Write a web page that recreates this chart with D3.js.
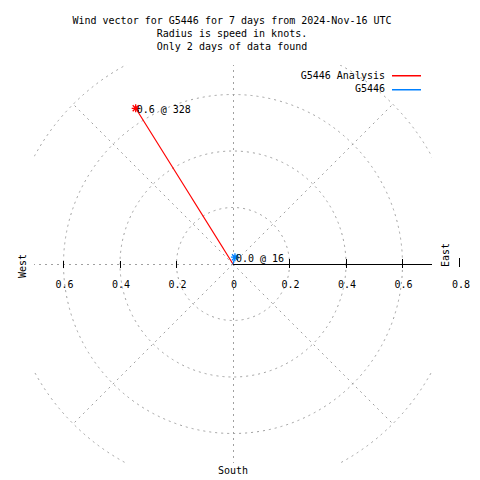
<!DOCTYPE html>
<html><head><meta charset="utf-8">
<script src="https://cdn.jsdelivr.net/npm/d3@7"></script>
<style>body{margin:0;background:#fff}svg{display:block}text{font-family:"DejaVu Sans Mono",monospace;font-size:10px;fill:#000}</style>
</head><body><svg id="c" width="480" height="480"></svg>
<script>
const titleLines = ["Wind vector for G5446 for 7 days from 2024-Nov-16 UTC","Radius is speed in knots.","Only 2 days of data found"];
const radialTicks = [0.2, 0.4, 0.6, 0.8];
const gridAngles = [0, 45, 90, 135, 180, 225, 270, 315];
const seriesNames = ["G5446 Analysis", "G5446"];
const seriesColors = ["#ff0000", "#0080ff"];
const speeds = [0.65, 0.025];
const directions = [328, 16];
const pointLabels = ["0.6 @ 328", "0.0 @ 16"];
const axisTickLabels = ["0", "0.2", "0.4", "0.6"];

const svg = d3.select("#c");
const cx = 233, cy = 264;
const r = d3.scaleLinear().domain([0, 0.8]).range([0, 226]);
const clipHalf = 199;

svg.append("defs").append("clipPath").attr("id","pc").append("rect")
  .attr("x", cx-clipHalf).attr("y", cy-clipHalf).attr("width", 2*clipHalf).attr("height", 2*clipHalf);

// title
svg.selectAll("text.title").data(titleLines).join("text").attr("class","title")
  .attr("x", 232).attr("y", (d,i)=>20+13*i).attr("text-anchor","middle").attr("dominant-baseline","central").text(d=>d);

const g = svg.append("g").attr("clip-path","url(#pc)");
const dash = "2,4", grey = "#a0a0a0";
// grid circles
g.selectAll("circle.grid").data(radialTicks).join("circle")
  .attr("cx",cx).attr("cy",cy).attr("r",d=>r(d)).attr("fill","none")
  .attr("stroke",grey).attr("stroke-dasharray",dash);
// radial lines
g.selectAll("line.rad").data(gridAngles).join("line")
  .attr("x1",cx).attr("y1",cy)
  .attr("x2",d=>cx+r(0.8)*Math.cos(d*Math.PI/180))
  .attr("y2",d=>cy-r(0.8)*Math.sin(d*Math.PI/180))
  .attr("stroke",grey).attr("stroke-dasharray",dash)
  .attr("shape-rendering",d=>d%90===0?"crispEdges":null);

// axis line east
svg.append("line").attr("x1",cx).attr("y1",cy).attr("x2",cx+clipHalf).attr("y2",cy).attr("stroke","#000").attr("shape-rendering","crispEdges");
// ticks
[0.2,0.4,0.6].forEach(t=>{
  svg.append("line").attr("x1",cx+r(t)).attr("x2",cx+r(t)).attr("y1",cy-5).attr("y2",cy+4).attr("stroke","#000").attr("shape-rendering","crispEdges");
  svg.append("line").attr("x1",cx-r(t)).attr("x2",cx-r(t)).attr("y1",cy-3).attr("y2",cy+4).attr("stroke","#000").attr("shape-rendering","crispEdges");
});
svg.append("line").attr("x1",cx+r(0.8)).attr("x2",cx+r(0.8)).attr("y1",cy-6).attr("y2",cy+3).attr("stroke","#000").attr("shape-rendering","crispEdges");
// east tick labels
axisTickLabels.forEach((lab,i)=>{
  const x = cx + r(i*0.2);
  svg.append("text").attr("x",x+1).attr("y",cy+20).attr("text-anchor","middle").attr("dominant-baseline","central").text(lab);
});
svg.append("text").attr("x",cx+r(0.8)+2).attr("y",cy+20).attr("text-anchor","middle").attr("dominant-baseline","central").text("0.8");
// west tick labels
axisTickLabels.slice(1).forEach((lab,i)=>{
  svg.append("text").attr("x",cx-r((i+1)*0.2)+1).attr("y",cy+20).attr("text-anchor","middle").attr("dominant-baseline","central").text(lab);
});
// compass labels
svg.append("text").attr("transform",`translate(22,${cy+2}) rotate(-90)`).attr("text-anchor","middle").attr("dominant-baseline","central").text("West");
svg.append("text").attr("transform",`translate(445,${cy-9}) rotate(-90)`).attr("text-anchor","middle").attr("dominant-baseline","central").text("East");
svg.append("text").attr("x",cx).attr("y",470).attr("text-anchor","middle").attr("dominant-baseline","central").text("South");

// data vectors
function pos(s,d){ const a=d*Math.PI/180; return [cx+r(s)*Math.sin(a), cy-r(s)*Math.cos(a)]; }
function star(sel,x,y,color){
  const s=4;
  sel.append("path").attr("d",`M${x-s},${y}H${x+s}M${x},${y-s}V${y+s}M${x-s+1},${y-s+1}L${x+s-1},${y+s-1}M${x-s+1},${y+s-1}L${x+s-1},${y-s+1}`)
    .attr("stroke",color).attr("stroke-width",1.3).attr("fill","none");
}
speeds.forEach((s,i)=>{
  const [x,y]=pos(s,directions[i]);
  svg.append("line").attr("x1",cx).attr("y1",cy).attr("x2",x).attr("y2",y).attr("stroke",seriesColors[i]).attr("stroke-width",1.2);
  star(svg,x,y,seriesColors[i]);
  svg.append("text").attr("x",x+1).attr("y",y+1).attr("dominant-baseline","central").text(pointLabels[i]);
});

// legend
seriesNames.forEach((n,i)=>{
  const y = 75+13.5*i;
  svg.append("text").attr("x",385).attr("y",y).attr("text-anchor","end").attr("dominant-baseline","central").text(n);
  svg.append("rect").attr("x",392).attr("width",29).attr("y",Math.round(y)).attr("height",1.5).attr("fill",seriesColors[i]);
});
</script></body></html>
